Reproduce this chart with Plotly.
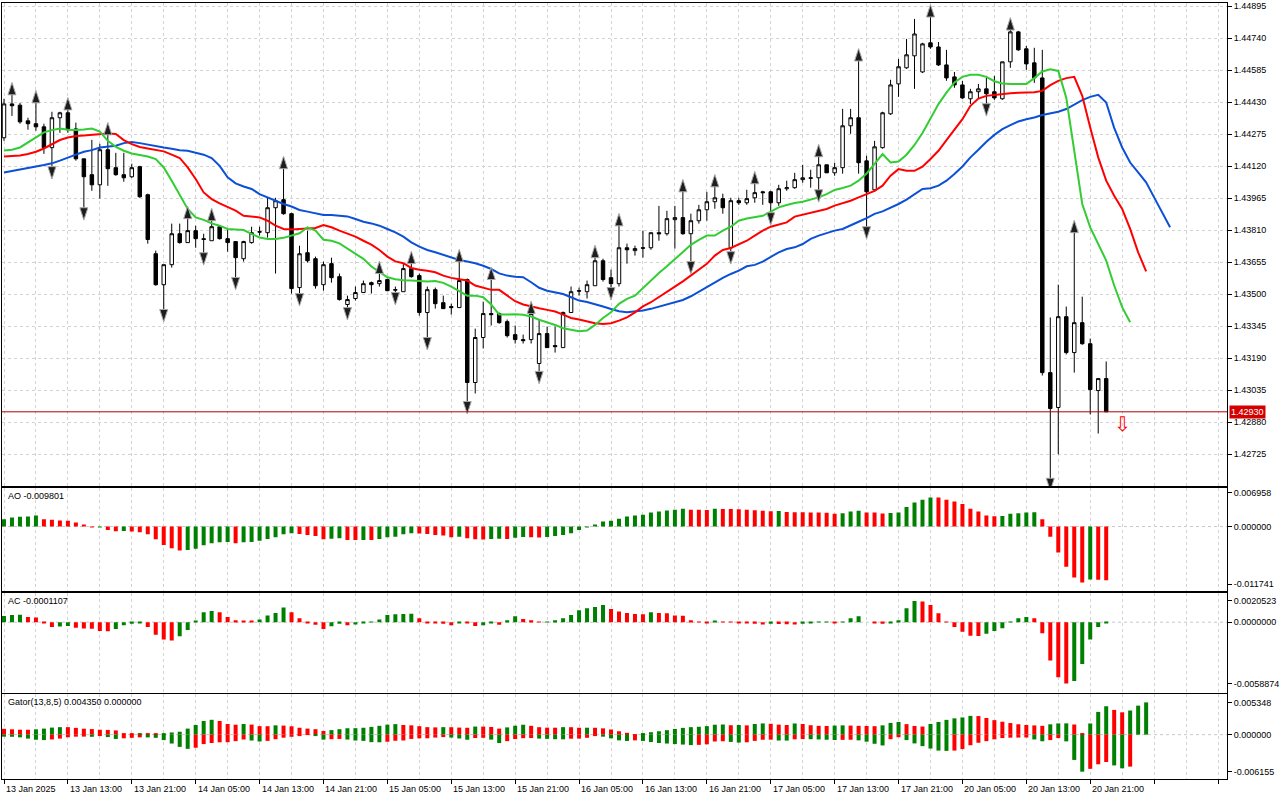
import plotly.graph_objects as go
from plotly.subplots import make_subplots

# H1 bars, bar 0 = 13 Jan 2025 05:00, last bar = 20 Jan 23:00 (x axis is the bar number)
open_ = [1.44258, 1.44422, 1.44416, 1.44340, 1.44326, 1.44311, 1.44210, 1.44355, 1.44379, 1.44301,
         1.44156, 1.44079, 1.44030, 1.44200, 1.44113, 1.44079, 1.44069, 1.44118, 1.43982, 1.43696,
         1.43546, 1.43643, 1.43793, 1.43750, 1.43808, 1.43769, 1.43759, 1.43827, 1.43769, 1.43755,
         1.43672, 1.43750, 1.43803, 1.43798, 1.43919, 1.43958, 1.43890, 1.43532, 1.43701, 1.43672,
         1.43546, 1.43648, 1.43585, 1.43450, 1.43479, 1.43508, 1.43556, 1.43551, 1.43571, 1.43522,
         1.43512, 1.43624, 1.43590, 1.43411, 1.43522, 1.43459, 1.43440, 1.43435, 1.43571, 1.43072,
         1.43290, 1.43406, 1.43406, 1.43367, 1.43304, 1.43280, 1.43280, 1.43164, 1.43309, 1.43251,
         1.43241, 1.43411, 1.43517, 1.43512, 1.43541, 1.43662, 1.43580, 1.43551, 1.43725, 1.43711,
         1.43725, 1.43725, 1.43798, 1.43793, 1.43861, 1.43871, 1.43793, 1.43856, 1.43909, 1.43948,
         1.43963, 1.43725, 1.43953, 1.43943, 1.43967, 1.43996, 1.43996, 1.43943, 1.44011, 1.44016,
         1.44055, 1.44064, 1.44064, 1.44127, 1.44088, 1.44113, 1.44316, 1.44355, 1.44146, 1.44006,
         1.44210, 1.44374, 1.44519, 1.44597, 1.44655, 1.44577, 1.44718, 1.44698, 1.44611, 1.44553,
         1.44514, 1.44447, 1.44481, 1.44495, 1.44481, 1.44447, 1.44626, 1.44771, 1.44689, 1.44621,
         1.44548, 1.43120, 1.42951, 1.43391, 1.43217, 1.43362, 1.43260, 1.43033, 1.43091]
high = [1.44447, 1.44471, 1.44427, 1.44355, 1.44432, 1.44326, 1.44384, 1.44384, 1.44398, 1.44331,
        1.44156, 1.44248, 1.44229, 1.44277, 1.44185, 1.44185, 1.44132, 1.44122, 1.43987, 1.43711,
        1.43643, 1.43842, 1.43842, 1.43871, 1.43832, 1.43793, 1.43861, 1.43832, 1.43813, 1.43755,
        1.43759, 1.43827, 1.43827, 1.43967, 1.43967, 1.44113, 1.43895, 1.43735, 1.43808, 1.43682,
        1.43658, 1.43677, 1.43600, 1.43493, 1.43537, 1.43566, 1.43561, 1.43605, 1.43576, 1.43537,
        1.43648, 1.43653, 1.43600, 1.43537, 1.43532, 1.43493, 1.43454, 1.43662, 1.43576, 1.43333,
        1.43464, 1.43576, 1.43411, 1.43377, 1.43348, 1.43304, 1.43411, 1.43377, 1.43343, 1.43343,
        1.43416, 1.43537, 1.43532, 1.43566, 1.43682, 1.43672, 1.43619, 1.43836, 1.43745, 1.43735,
        1.43808, 1.43798, 1.43928, 1.43904, 1.43928, 1.44001, 1.43890, 1.43933, 1.43996, 1.44025,
        1.43987, 1.43967, 1.43967, 1.44006, 1.44040, 1.44001, 1.44001, 1.44030, 1.44050, 1.44088,
        1.44127, 1.44103, 1.44171, 1.44127, 1.44137, 1.44398, 1.44398, 1.44635, 1.44171, 1.44243,
        1.44384, 1.44539, 1.44640, 1.44737, 1.44834, 1.44718, 1.44848, 1.44722, 1.44684, 1.44577,
        1.44534, 1.44495, 1.44519, 1.44558, 1.44558, 1.44626, 1.44785, 1.44776, 1.44703, 1.44694,
        1.44684, 1.43387, 1.43546, 1.43440, 1.43803, 1.43488, 1.43285, 1.43091, 1.43174]
low = [1.44243, 1.44364, 1.44326, 1.44297, 1.44292, 1.44180, 1.44113, 1.44282, 1.44282, 1.44147,
       1.43914, 1.44001, 1.43963, 1.44025, 1.44074, 1.44045, 1.44064, 1.43967, 1.43745, 1.43541,
       1.43421, 1.43629, 1.43745, 1.43750, 1.43725, 1.43696, 1.43759, 1.43765, 1.43706, 1.43576,
       1.43658, 1.43745, 1.43784, 1.43774, 1.43600, 1.43885, 1.43503, 1.43498, 1.43653, 1.43527,
       1.43517, 1.43556, 1.43469, 1.43430, 1.43469, 1.43508, 1.43503, 1.43537, 1.43517, 1.43503,
       1.43512, 1.43580, 1.43396, 1.43285, 1.43430, 1.43430, 1.43401, 1.43435, 1.42975, 1.43019,
       1.43237, 1.43348, 1.43357, 1.43290, 1.43261, 1.43261, 1.43261, 1.43121, 1.43241, 1.43217,
       1.43241, 1.43411, 1.43493, 1.43479, 1.43541, 1.43561, 1.43527, 1.43537, 1.43648, 1.43687,
       1.43677, 1.43715, 1.43759, 1.43784, 1.43721, 1.43788, 1.43653, 1.43842, 1.43856, 1.43914,
       1.43890, 1.43701, 1.43933, 1.43933, 1.43943, 1.43933, 1.43890, 1.43928, 1.44001, 1.44011,
       1.44040, 1.44016, 1.44001, 1.44088, 1.44074, 1.44084, 1.44277, 1.44084, 1.43822, 1.43996,
       1.44205, 1.44369, 1.44456, 1.44592, 1.44495, 1.44572, 1.44689, 1.44606, 1.44534, 1.44500,
       1.44447, 1.44422, 1.44447, 1.44418, 1.44442, 1.44442, 1.44597, 1.44679, 1.44587, 1.44524,
       1.43106, 1.42603, 1.42724, 1.43208, 1.43120, 1.43255, 1.42917, 1.42825, 1.42930]
close = [1.44422, 1.44413, 1.44335, 1.44326, 1.44311, 1.44210, 1.44355, 1.44379, 1.44297, 1.44156,
         1.44069, 1.44030, 1.44200, 1.44108, 1.44079, 1.44064, 1.44113, 1.43972, 1.43765, 1.43546,
         1.43643, 1.43793, 1.43750, 1.43808, 1.43769, 1.43765, 1.43827, 1.43769, 1.43750, 1.43677,
         1.43755, 1.43798, 1.43801, 1.43919, 1.43953, 1.43890, 1.43527, 1.43696, 1.43662, 1.43541,
         1.43643, 1.43580, 1.43474, 1.43474, 1.43508, 1.43551, 1.43546, 1.43566, 1.43517, 1.43520,
         1.43624, 1.43585, 1.43411, 1.43522, 1.43454, 1.43430, 1.43435, 1.43566, 1.43072, 1.43290,
         1.43406, 1.43401, 1.43362, 1.43299, 1.43280, 1.43275, 1.43406, 1.43309, 1.43241, 1.43246,
         1.43411, 1.43512, 1.43515, 1.43546, 1.43662, 1.43571, 1.43551, 1.43725, 1.43715, 1.43721,
         1.43723, 1.43798, 1.43793, 1.43866, 1.43871, 1.43793, 1.43856, 1.43909, 1.43948, 1.43967,
         1.43919, 1.43953, 1.43943, 1.43963, 1.43992, 1.43992, 1.43943, 1.44011, 1.44016, 1.44055,
         1.44064, 1.44062, 1.44127, 1.44088, 1.44113, 1.44316, 1.44355, 1.44137, 1.43996, 1.44214,
         1.44379, 1.44514, 1.44602, 1.44660, 1.44761, 1.44713, 1.44698, 1.44611, 1.44548, 1.44514,
         1.44451, 1.44481, 1.44495, 1.44471, 1.44451, 1.44626, 1.44771, 1.44684, 1.44616, 1.44548,
         1.43120, 1.42946, 1.43391, 1.43217, 1.43362, 1.43260, 1.43038, 1.43091, 1.42930]

# Alligator lines as drawn (already shifted forward by 8 / 5 / 3 bars)
jaw = [1.44090, 1.44098, 1.44106, 1.44114, 1.44119, 1.44126, 1.44134, 1.44147, 1.44160, 1.44176,
       1.44190, 1.44198, 1.44211, 1.44216, 1.44219, 1.44232, 1.44237, 1.44232, 1.44224, 1.44216,
       1.44211, 1.44205, 1.44198, 1.44195, 1.44187, 1.44176, 1.44160, 1.44122, 1.44066, 1.44037,
       1.44022, 1.44010, 1.43985, 1.43969, 1.43956, 1.43937, 1.43925, 1.43908, 1.43900, 1.43893,
       1.43884, 1.43884, 1.43880, 1.43877, 1.43864, 1.43851, 1.43843, 1.43832, 1.43816, 1.43800,
       1.43779, 1.43751, 1.43730, 1.43714, 1.43703, 1.43690, 1.43679, 1.43666, 1.43658, 1.43650,
       1.43638, 1.43622, 1.43601, 1.43590, 1.43585, 1.43582, 1.43558, 1.43531, 1.43517, 1.43509,
       1.43501, 1.43485, 1.43469, 1.43462, 1.43452, 1.43440, 1.43428, 1.43417, 1.43412, 1.43416,
       1.43421, 1.43429, 1.43440, 1.43450, 1.43461, 1.43472, 1.43490, 1.43513, 1.43533, 1.43555,
       1.43579, 1.43598, 1.43614, 1.43635, 1.43642, 1.43658, 1.43682, 1.43703, 1.43719, 1.43727,
       1.43743, 1.43768, 1.43784, 1.43797, 1.43808, 1.43816, 1.43832, 1.43851, 1.43869, 1.43889,
       1.43901, 1.43918, 1.43937, 1.43958, 1.43982, 1.44010, 1.44013, 1.44026, 1.44050, 1.44082,
       1.44119, 1.44163, 1.44200, 1.44239, 1.44272, 1.44300, 1.44319, 1.44337, 1.44348, 1.44356,
       1.44368, 1.44375, 1.44384, 1.44397, 1.44418, 1.44440, 1.44456, 1.44466, 1.44429, 1.44306,
       1.44211, 1.44138, 1.44090, 1.44042, 1.43969, 1.43896, 1.43824]
teeth = [1.44167, 1.44169, 1.44172, 1.44179, 1.44190, 1.44206, 1.44227, 1.44247, 1.44259, 1.44266,
         1.44269, 1.44272, 1.44276, 1.44279, 1.44276, 1.44247, 1.44227, 1.44213, 1.44206, 1.44200,
         1.44192, 1.44176, 1.44160, 1.44114, 1.44058, 1.43993, 1.43961, 1.43940, 1.43924, 1.43905,
         1.43880, 1.43876, 1.43872, 1.43856, 1.43832, 1.43816, 1.43814, 1.43816, 1.43819, 1.43821,
         1.43835, 1.43824, 1.43808, 1.43792, 1.43779, 1.43759, 1.43740, 1.43714, 1.43682, 1.43659,
         1.43650, 1.43627, 1.43618, 1.43614, 1.43606, 1.43590, 1.43579, 1.43572, 1.43566, 1.43542,
         1.43531, 1.43521, 1.43521, 1.43493, 1.43466, 1.43450, 1.43440, 1.43432, 1.43424, 1.43416,
         1.43401, 1.43385, 1.43377, 1.43369, 1.43359, 1.43356, 1.43359, 1.43372, 1.43388, 1.43412,
         1.43441, 1.43461, 1.43485, 1.43509, 1.43537, 1.43562, 1.43590, 1.43618, 1.43647, 1.43687,
         1.43714, 1.43724, 1.43743, 1.43759, 1.43784, 1.43808, 1.43827, 1.43837, 1.43848, 1.43876,
         1.43885, 1.43893, 1.43901, 1.43913, 1.43929, 1.43940, 1.43953, 1.43969, 1.43985, 1.44001,
         1.44026, 1.44074, 1.44106, 1.44098, 1.44098, 1.44118, 1.44155, 1.44195, 1.44247, 1.44300,
         1.44348, 1.44413, 1.44448, 1.44461, 1.44466, 1.44472, 1.44474, 1.44476, 1.44477, 1.44479,
         1.44485, 1.44513, 1.44534, 1.44547, 1.44553, 1.44461, 1.44308, 1.44163, 1.44050, 1.43977,
         1.43913, 1.43816, 1.43703, 1.43611]
lips = [1.44196, 1.44200, 1.44211, 1.44235, 1.44263, 1.44284, 1.44295, 1.44303, 1.44297, 1.44295,
        1.44298, 1.44303, 1.44288, 1.44243, 1.44214, 1.44195, 1.44182, 1.44174, 1.44167, 1.44155,
        1.44114, 1.44050, 1.43985, 1.43913, 1.43872, 1.43860, 1.43843, 1.43832, 1.43816, 1.43813,
        1.43811, 1.43792, 1.43775, 1.43768, 1.43768, 1.43773, 1.43784, 1.43795, 1.43824, 1.43808,
        1.43764, 1.43759, 1.43746, 1.43722, 1.43695, 1.43671, 1.43634, 1.43606, 1.43582, 1.43572,
        1.43567, 1.43566, 1.43564, 1.43562, 1.43564, 1.43555, 1.43537, 1.43517, 1.43493, 1.43493,
        1.43485, 1.43450, 1.43401, 1.43401, 1.43403, 1.43400, 1.43392, 1.43376, 1.43364, 1.43351,
        1.43335, 1.43327, 1.43320, 1.43324, 1.43351, 1.43385, 1.43412, 1.43453, 1.43477, 1.43493,
        1.43531, 1.43566, 1.43603, 1.43635, 1.43671, 1.43703, 1.43739, 1.43763, 1.43784, 1.43784,
        1.43808, 1.43827, 1.43856, 1.43867, 1.43872, 1.43880, 1.43900, 1.43921, 1.43932, 1.43942,
        1.43948, 1.43958, 1.43969, 1.43985, 1.44005, 1.44015, 1.44026, 1.44050, 1.44085, 1.44131,
        1.44179, 1.44138, 1.44143, 1.44176, 1.44223, 1.44281, 1.44351, 1.44421, 1.44477, 1.44526,
        1.44553, 1.44563, 1.44563, 1.44553, 1.44532, 1.44521, 1.44518, 1.44518, 1.44518, 1.44547,
        1.44579, 1.44590, 1.44582, 1.44452, 1.44195, 1.43937, 1.43824, 1.43743, 1.43663, 1.43542,
        1.43437, 1.43364]

fractal_up = [1, 4, 8, 13, 23, 26, 35, 47, 51, 57, 61, 66, 74, 77, 85, 89, 94, 102, 107, 116, 126, 134]
fractal_down = [6, 10, 20, 25, 29, 37, 43, 49, 53, 58, 67, 76, 86, 91, 96, 102, 108, 123, 131]

ao = [0.00150, 0.00184, 0.00198, 0.00205, 0.00225, 0.00150, 0.00137, 0.00123, 0.00120, 0.00082,
      0.00041, -0.00005, -0.00002, -0.00068, -0.00095, -0.00092, -0.00100, -0.00116, -0.00157, -0.00260,
      -0.00376, -0.00444, -0.00485, -0.00478, -0.00451, -0.00383, -0.00342, -0.00321, -0.00315, -0.00342,
      -0.00321, -0.00316, -0.00287, -0.00253, -0.00219, -0.00157, -0.00137, -0.00150, -0.00171, -0.00191,
      -0.00260, -0.00246, -0.00239, -0.00273, -0.00276, -0.00272, -0.00275, -0.00253, -0.00219, -0.00205,
      -0.00157, -0.00137, -0.00140, -0.00150, -0.00171, -0.00184, -0.00219, -0.00205, -0.00239, -0.00260,
      -0.00262, -0.00255, -0.00248, -0.00252, -0.00230, -0.00215, -0.00220, -0.00225, -0.00215, -0.00191,
      -0.00171, -0.00137, -0.00068, -0.00005, 0.00041, 0.00102, 0.00116, 0.00157, 0.00205, 0.00225,
      0.00239, 0.00287, 0.00307, 0.00328, 0.00342, 0.00362, 0.00342, 0.00340, 0.00338, 0.00360,
      0.00358, 0.00356, 0.00354, 0.00342, 0.00330, 0.00320, 0.00312, 0.00316, 0.00294, 0.00292,
      0.00290, 0.00287, 0.00285, 0.00283, 0.00260, 0.00273, 0.00307, 0.00321, 0.00287, 0.00285,
      0.00268, 0.00274, 0.00287, 0.00396, 0.00492, 0.00546, 0.00594, 0.00590, 0.00546, 0.00512,
      0.00458, 0.00362, 0.00307, 0.00225, 0.00210, 0.00215, 0.00260, 0.00273, 0.00287, 0.00290,
      0.00150, -0.00205, -0.00526, -0.00820, -0.01038, -0.01141, -0.01079, -0.01085, -0.01093]
ac = [0.00060, 0.00069, 0.00072, 0.00050, 0.00046, -0.00006, -0.00045, -0.00040, -0.00036, -0.00054,
      -0.00060, -0.00062, -0.00085, -0.00087, -0.00066, -0.00030, -0.00015, -0.00009, -0.00045, -0.00121,
      -0.00166, -0.00175, -0.00136, -0.00076, 0.00012, 0.00096, 0.00108, 0.00096, 0.00050, 0.00019,
      0.00012, 0.00010, 0.00027, 0.00065, 0.00089, 0.00142, 0.00096, 0.00039, -0.00006, -0.00024,
      -0.00066, -0.00039, -0.00015, -0.00030, -0.00021, -0.00006, 0.00002, 0.00027, 0.00069, 0.00077,
      0.00079, 0.00081, 0.00039, -0.00006, -0.00009, -0.00015, -0.00030, -0.00006, -0.00008, -0.00036,
      -0.00030, -0.00009, -0.00024, 0.00019, 0.00058, 0.00031, 0.00019, -0.00003, 0.00003, 0.00019,
      0.00039, 0.00069, 0.00116, 0.00135, 0.00146, 0.00166, 0.00127, 0.00104, 0.00089, 0.00080,
      0.00076, 0.00096, 0.00089, 0.00085, 0.00065, 0.00063, 0.00019, -0.00002, -0.00004, 0.00012,
      -0.00001, -0.00003, -0.00006, -0.00009, -0.00015, -0.00021, -0.00015, -0.00017, -0.00019, -0.00022,
      -0.00015, -0.00006, -0.00003, 0.00001, -0.00009, 0.00001, 0.00039, 0.00058, 0.00000, -0.00009,
      -0.00015, -0.00009, 0.00019, 0.00135, 0.00205, 0.00200, 0.00166, 0.00085, -0.00002, -0.00045,
      -0.00091, -0.00130, -0.00132, -0.00112, -0.00085, -0.00057, -0.00003, 0.00039, 0.00050, 0.00039,
      -0.00106, -0.00368, -0.00529, -0.00589, -0.00565, -0.00402, -0.00166, -0.00045, -0.00011]
gator_up = [0.00096, 0.00088, 0.00082, 0.00081, 0.00088, 0.00100, 0.00117, 0.00124, 0.00124, 0.00112,
            0.00098, 0.00092, 0.00081, 0.00078, 0.00070, 0.00018, 0.00012, 0.00024, 0.00022, 0.00020,
            0.00024, 0.00036, 0.00048, 0.00100, 0.00160, 0.00227, 0.00246, 0.00227, 0.00176, 0.00164,
            0.00176, 0.00166, 0.00141, 0.00140, 0.00154, 0.00150, 0.00138, 0.00114, 0.00100, 0.00090,
            0.00060, 0.00075, 0.00090, 0.00106, 0.00107, 0.00114, 0.00128, 0.00146, 0.00166, 0.00174,
            0.00160, 0.00154, 0.00140, 0.00124, 0.00120, 0.00124, 0.00123, 0.00117, 0.00114, 0.00134,
            0.00133, 0.00126, 0.00100, 0.00120, 0.00148, 0.00164, 0.00146, 0.00123, 0.00116, 0.00115,
            0.00124, 0.00123, 0.00114, 0.00115, 0.00114, 0.00104, 0.00085, 0.00056, 0.00030, 0.00004,
            0.00026, 0.00040, 0.00056, 0.00074, 0.00094, 0.00112, 0.00124, 0.00130, 0.00141, 0.00164,
            0.00168, 0.00156, 0.00160, 0.00154, 0.00176, 0.00186, 0.00180, 0.00166, 0.00160, 0.00185,
            0.00176, 0.00156, 0.00146, 0.00144, 0.00150, 0.00154, 0.00150, 0.00146, 0.00144, 0.00140,
            0.00154, 0.00194, 0.00210, 0.00174, 0.00144, 0.00134, 0.00177, 0.00210, 0.00245, 0.00270,
            0.00285, 0.00311, 0.00308, 0.00276, 0.00240, 0.00214, 0.00192, 0.00172, 0.00160, 0.00153,
            0.00146, 0.00171, 0.00186, 0.00187, 0.00168, 0.00026, 0.00185, 0.00377, 0.00471, 0.00410,
            0.00370, 0.00400, 0.00481, 0.00535]
gator_down = [0.00034, 0.00036, 0.00045, 0.00066, 0.00085, 0.00091, 0.00080, 0.00066, 0.00044, 0.00034,
              0.00033, 0.00036, 0.00015, 0.00041, 0.00072, 0.00061, 0.00053, 0.00045, 0.00046, 0.00053,
              0.00091, 0.00148, 0.00204, 0.00236, 0.00218, 0.00157, 0.00139, 0.00127, 0.00126, 0.00108,
              0.00081, 0.00098, 0.00114, 0.00104, 0.00076, 0.00051, 0.00036, 0.00025, 0.00006, 0.00015,
              0.00083, 0.00076, 0.00072, 0.00082, 0.00098, 0.00104, 0.00125, 0.00127, 0.00118, 0.00102,
              0.00097, 0.00072, 0.00062, 0.00061, 0.00049, 0.00041, 0.00049, 0.00064, 0.00085, 0.00057,
              0.00053, 0.00083, 0.00140, 0.00108, 0.00074, 0.00059, 0.00057, 0.00066, 0.00070, 0.00076,
              0.00078, 0.00068, 0.00066, 0.00053, 0.00009, 0.00034, 0.00062, 0.00095, 0.00105, 0.00095,
              0.00105, 0.00123, 0.00139, 0.00148, 0.00157, 0.00165, 0.00174, 0.00170, 0.00161, 0.00114,
              0.00110, 0.00121, 0.00132, 0.00127, 0.00104, 0.00085, 0.00084, 0.00098, 0.00099, 0.00078,
              0.00074, 0.00076, 0.00080, 0.00085, 0.00089, 0.00087, 0.00085, 0.00095, 0.00117, 0.00152,
              0.00180, 0.00076, 0.00043, 0.00091, 0.00146, 0.00191, 0.00231, 0.00265, 0.00270, 0.00265,
              0.00240, 0.00176, 0.00135, 0.00108, 0.00078, 0.00057, 0.00051, 0.00049, 0.00048, 0.00080,
              0.00110, 0.00091, 0.00057, 0.00112, 0.00420, 0.00615, 0.00568, 0.00492, 0.00454, 0.00511,
              0.00559, 0.00531]

price_ticks = [1.42725, 1.42880, 1.43035, 1.43190, 1.43345, 1.43500, 1.43655, 1.43810,
               1.43965, 1.44120, 1.44275, 1.44430, 1.44585, 1.44740, 1.44895]
time_ticks = [0, 8, 16, 24, 32, 40, 48, 56, 64, 72, 80, 88, 96, 104, 112, 120, 128, 136]
time_labels = ["13 Jan 2025", "13 Jan 13:00", "13 Jan 21:00", "14 Jan 05:00", "14 Jan 13:00",
               "14 Jan 21:00", "15 Jan 05:00", "15 Jan 13:00", "15 Jan 21:00", "16 Jan 05:00",
               "16 Jan 13:00", "16 Jan 21:00", "17 Jan 05:00", "17 Jan 13:00", "17 Jan 21:00",
               "20 Jan 05:00", "20 Jan 13:00", "20 Jan 21:00"]
ao_ticks = [0.006958, 0.0, -0.011741]
ac_ticks = [0.0020523, 0.0, -0.0058874]
gator_ticks = [0.005348, 0.0, -0.006155]

last_price = 1.42930
signal_bar = 140
signal_price = 1.42869

GREEN = "#008000"
RED = "#ff0000"
GRID = "#d3d3d3"
FONT = "Liberation Sans"


def rise_colors(values, first):
    cols = [first]
    for prev, cur in zip(values, values[1:]):
        cols.append(GREEN if cur > prev else RED)
    return cols


fig = make_subplots(rows=4, cols=1, shared_xaxes=True, vertical_spacing=0.01)

# alligator
for line, col in ((jaw, "#0b50d6"), (teeth, "#ff0000"), (lips, "#32cd32")):
    fig.add_trace(go.Scatter(x=list(range(len(line))), y=line, mode="lines",
                             line=dict(color=col, width=2), hoverinfo="skip"), row=1, col=1)

bars = list(range(len(close)))
fig.add_trace(go.Candlestick(
    x=bars, open=open_, high=high, low=low, close=close,
    increasing=dict(line=dict(color="black", width=1), fillcolor="white"),
    decreasing=dict(line=dict(color="black", width=1), fillcolor="black"),
    whiskerwidth=0, hoverinfo="skip"), row=1, col=1)

# fractal arrows sit a little clear of the wick ends
gap = 0.00055
fig.add_trace(go.Scatter(
    x=fractal_up, y=[high[i] + gap for i in fractal_up], mode="markers",
    marker=dict(symbol="arrow", size=13, color="#1e1e1e", angle=0,
                line=dict(color="#a8a8a8", width=1)), hoverinfo="skip"), row=1, col=1)
fig.add_trace(go.Scatter(
    x=fractal_down, y=[low[i] - gap for i in fractal_down], mode="markers",
    marker=dict(symbol="arrow", size=13, color="#1e1e1e", angle=180,
                line=dict(color="#a8a8a8", width=1)), hoverinfo="skip"), row=1, col=1)

# AO / AC
fig.add_trace(go.Bar(x=bars, y=ao, width=0.5, marker=dict(color=rise_colors(ao, GREEN), line_width=0),
                     hoverinfo="skip"), row=2, col=1)
fig.add_trace(go.Bar(x=bars, y=ac, width=0.5, marker=dict(color=rise_colors(ac, GREEN), line_width=0),
                     hoverinfo="skip"), row=3, col=1)

# Gator
fig.add_trace(go.Bar(x=list(range(len(gator_up))), y=gator_up, width=0.5,
                     marker=dict(color=rise_colors(gator_up, RED), line_width=0),
                     hoverinfo="skip"), row=4, col=1)
fig.add_trace(go.Bar(x=list(range(len(gator_down))), y=[-v for v in gator_down], width=0.5,
                     marker=dict(color=rise_colors(gator_down, GREEN), line_width=0),
                     hoverinfo="skip"), row=4, col=1)

domains = {"yaxis": [0.3777, 1.0], "yaxis2": [0.2429, 0.3745],
           "yaxis3": [0.1111, 0.2403], "yaxis4": [0.0, 0.1094]}

fig.update_layout(
    width=1280, height=800, margin=dict(l=1, r=52, t=2, b=21),
    paper_bgcolor="white", plot_bgcolor="white", showlegend=False,
    barmode="relative", boxgap=0.38,
    font=dict(family=FONT, size=9, color="black"),
)

fig.update_xaxes(range=[-0.25, 153.125], showline=True, mirror=True, linecolor="black", linewidth=1,
                 zeroline=False, showgrid=True, gridcolor=GRID, griddash="3px,3px", gridwidth=1,
                 tickmode="linear", tick0=0, dtick=8, showticklabels=False, ticks="",
                 minor=dict(tick0=0, dtick=4, showgrid=True, gridcolor=GRID, griddash="3px,3px"),
                 rangeslider_visible=False, fixedrange=True)
fig.update_xaxes(ticks="outside", ticklen=4, tickcolor="black", row=4, col=1)

axis_common = dict(side="right", showline=True, mirror=True, linecolor="black", linewidth=1,
                   zeroline=False, ticks="outside", ticklen=4, tickcolor="black", fixedrange=True,
                   tickmode="array", tickfont=dict(family=FONT, size=9, color="black"))
fig.update_layout(
    yaxis=dict(domain=domains["yaxis"], range=[1.42571, 1.44911], tickvals=price_ticks,
               ticktext=[f"{v:.5f}" for v in price_ticks], showgrid=True, gridcolor=GRID,
               griddash="3px,3px", **axis_common),
    yaxis2=dict(domain=domains["yaxis2"], range=[-0.01302, 0.00777], tickvals=ao_ticks,
                ticktext=[f"{v:.6f}" for v in ao_ticks], showgrid=False, **axis_common),
    yaxis3=dict(domain=domains["yaxis3"], range=[-0.006783, 0.002853], tickvals=ac_ticks,
                ticktext=[f"{v:.7f}" for v in ac_ticks], showgrid=False, **axis_common),
    yaxis4=dict(domain=domains["yaxis4"], range=[-0.007365, 0.006724], tickvals=gator_ticks,
                ticktext=[f"{v:.6f}" for v in gator_ticks], showgrid=False, **axis_common),
)

shapes = [dict(type="line", xref="x domain", yref="y", x0=0, x1=1, y0=last_price, y1=last_price,
               line=dict(color="#b40000", width=1))]
for ax in ("2", "3", "4"):
    shapes.append(dict(type="line", xref=f"x{ax} domain", yref=f"y{ax}", x0=0, x1=1, y0=0, y1=0,
                       line=dict(color="#c8c8c8", width=1, dash="3px,3px"), layer="below"))
fig.update_layout(shapes=shapes)

notes = []
for name, text in (("yaxis2", "AO -0.009801"), ("yaxis3", "AC -0.0001107"),
                   ("yaxis4", "Gator(13,8,5) 0.004350 0.000000")):
    notes.append(dict(xref="paper", yref="paper", x=0, y=domains[name][1], xanchor="left",
                      yanchor="top", xshift=4, yshift=-1, text=text, showarrow=False,
                      font=dict(family=FONT, size=9, color="black")))
for b, lab in zip(time_ticks, time_labels):
    notes.append(dict(xref="x4", yref="paper", x=b, y=0, xanchor="left", yanchor="top",
                      xshift=0, yshift=-3, text=lab, showarrow=False,
                      font=dict(family=FONT, size=9, color="black")))
notes.append(dict(xref="paper", yref="y", x=1, y=last_price, xanchor="left", xshift=2,
                  text=f"{last_price:.5f}", showarrow=False, bgcolor="#d40000", borderpad=1,
                  font=dict(family=FONT, size=9, color="white")))
notes.append(dict(xref="x", yref="y", x=signal_bar, y=signal_price, text="\u21e9", showarrow=False,
                  font=dict(family="DejaVu Sans", size=20, color="#ff0000")))
fig.update_layout(annotations=notes)

# the page body has a default 8px margin; drop it so the figure sits at the window's corner
fig.write_html("out.html", config={"displayModeBar": False},
               post_script="document.body.style.margin='0px';")
